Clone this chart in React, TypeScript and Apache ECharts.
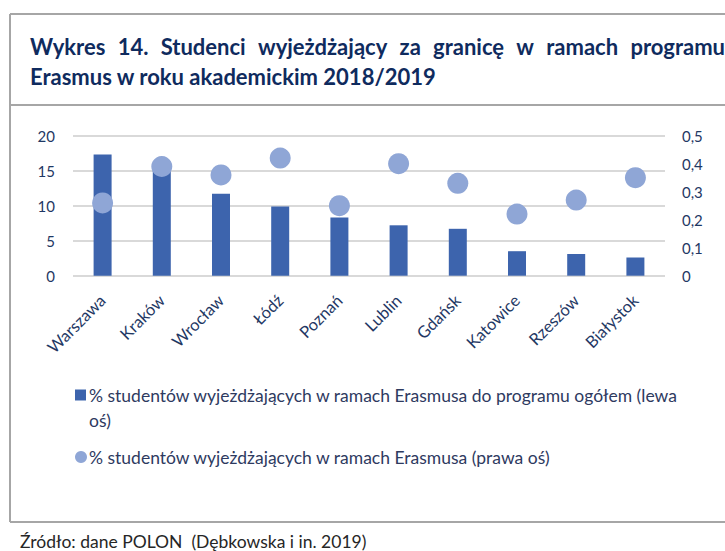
import React, { useEffect, useRef } from "react";
import * as echarts from "echarts";

const categories = ["Warszawa", "Kraków", "Wrocław", "Łódź", "Poznań", "Lublin", "Gdańsk", "Katowice", "Rzeszów", "Białystok"];
const shareOfProgramme = [17.3, 15.5, 11.7, 9.9, 8.3, 7.2, 6.7, 3.5, 3.1, 2.6];
const shareOfStudents = [0.26, 0.39, 0.36, 0.42, 0.25, 0.4, 0.33, 0.22, 0.27, 0.35];
const leftAxisTicks = [0, 5, 10, 15, 20];
const rightAxisTicks = [0, 0.1, 0.2, 0.3, 0.4, 0.5];

const barName = "% studentów wyjeżdżających w ramach Erasmusa do programu ogółem (lewa oś)";
const dotName = "% studentów wyjeżdżających w ramach Erasmusa (prawa oś)";
const titleLine1 = "Wykres 14. Studenci wyjeżdżający za granicę w ramach programu";
const titleLine2 = "Erasmus w roku akademickim 2018/2019";
const sourceText = "Źródło: dane POLON  (Dębkowska i in. 2019)";

const FONT = "Lato, 'Open Sans', sans-serif";
const NAVY = "#1F3864";
const TITLE = "#0F2B5E";
const BAR = "#3D64AD";
const DOT = "#8FA6D6";
const FRAME = "#A6A6A6";
const TITLE_SIZE = 22;

function justifiedWords(text: string, left: number, right: number, font: string) {
  const words = text.split(" ");
  const ctx = document.createElement("canvas").getContext("2d");
  let widths = words.map((w) => w.length * 10);
  if (ctx) {
    ctx.font = font;
    widths = words.map((w) => ctx.measureText(w).width);
  }
  const total = widths.reduce((a, b) => a + b, 0);
  const gap = (right - left - total) / (words.length - 1);
  const out: { text: string; x: number }[] = [];
  let x = left;
  words.forEach((w, i) => {
    out.push({ text: w, x });
    x += widths[i] + gap;
  });
  return out;
}

export default function App() {
  const ref = useRef<HTMLDivElement>(null);
  useEffect(() => {
    if (!ref.current) return;
    const chart = echarts.init(ref.current, null, { renderer: "svg" });
    const titleFont = { fontFamily: FONT, fontWeight: "bold" as const, fontSize: TITLE_SIZE, fill: TITLE };
    const line1 = justifiedWords(titleLine1, 30, 725, `bold ${TITLE_SIZE}px Lato`);
    const graphic: any[] = [
      { type: "line", shape: { x1: 10, y1: 14, x2: 725, y2: 14 }, style: { stroke: FRAME, lineWidth: 2 } },
      { type: "line", shape: { x1: 10, y1: 14, x2: 10, y2: 522 }, style: { stroke: FRAME, lineWidth: 2 } },
      { type: "line", shape: { x1: 10, y1: 105, x2: 725, y2: 105 }, style: { stroke: FRAME, lineWidth: 2 } },
      { type: "line", shape: { x1: 10, y1: 522, x2: 725, y2: 522 }, style: { stroke: FRAME, lineWidth: 2 } },
      ...line1.map((w) => ({
        type: "text",
        x: w.x,
        y: 46,
        style: { text: w.text, ...titleFont, verticalAlign: "middle" },
      })),
      {
        type: "text",
        x: 30,
        y: 76,
        style: { text: titleLine2, ...titleFont, verticalAlign: "middle" },
      },
      {
        type: "text",
        x: 89,
        y: 420,
        style: { text: "oś)", fontFamily: FONT, fontSize: 17.5, fill: "#2E3A5F", verticalAlign: "middle" },
      },
      {
        type: "text",
        x: 20,
        y: 541,
        style: { text: sourceText, fontFamily: FONT, fontSize: 17.5, fill: "#262626", verticalAlign: "middle" },
      },
    ];
    const legendText = { fontFamily: FONT, fontSize: 17.5, color: "#2E3A5F" };
    chart.setOption({
      animation: false,
      backgroundColor: "#fff",
      grid: { left: 73, right: 60, top: 135.7, bottom: 275.3, containLabel: false },
      legend: [
        {
          data: [{ name: barName, icon: "rect" }],
          left: 75,
          top: 386,
          itemWidth: 11,
          itemHeight: 11,
          padding: 0,
          selectedMode: false,
          formatter: () => "% studentów wyjeżdżających w ramach Erasmusa do programu ogółem (lewa",
          textStyle: { ...legendText, padding: [0, 0, 0, -2] },
        },
        {
          data: [{ name: dotName, icon: "circle" }],
          left: 75,
          top: 448,
          itemWidth: 12,
          itemHeight: 12,
          padding: 0,
          selectedMode: false,
          textStyle: { ...legendText, padding: [0, 0, 0, -3] },
        },
      ],
      xAxis: {
        type: "category",
        data: categories,
        axisLine: { show: false },
        axisTick: { show: false },
        axisLabel: {
          rotate: 45,
          interval: 0,
          margin: 22,
          verticalAlign: "middle",
          fontFamily: FONT,
          fontSize: 16.5,
          color: NAVY,
        },
      },
      yAxis: [
        {
          type: "value",
          min: leftAxisTicks[0],
          max: leftAxisTicks[leftAxisTicks.length - 1],
          interval: leftAxisTicks[1] - leftAxisTicks[0],
          axisLine: { show: false },
          axisTick: { show: false },
          axisLabel: { margin: 18, fontFamily: FONT, fontSize: 15, color: NAVY },
          splitLine: { lineStyle: { color: "#D9D9D9", width: 2 } },
        },
        {
          type: "value",
          min: rightAxisTicks[0],
          max: rightAxisTicks[rightAxisTicks.length - 1],
          interval: 0.1,
          axisLine: { show: false },
          axisTick: { show: false },
          axisLabel: {
            margin: 17,
            fontFamily: FONT,
            fontSize: 15,
            color: NAVY,
            formatter: (v: number) => (Math.round(v * 10) / 10).toString().replace(".", ","),
          },
          splitLine: { show: false },
        },
      ],
      series: [
        {
          name: barName,
          type: "bar",
          data: shareOfProgramme,
          yAxisIndex: 0,
          barWidth: 18,
          itemStyle: { color: BAR },
        },
        {
          name: dotName,
          type: "scatter",
          data: shareOfStudents,
          yAxisIndex: 1,
          symbolSize: 21,
          itemStyle: { color: DOT, opacity: 1 },
        },
      ],
      graphic,
    });
    return () => chart.dispose();
  }, []);
  return <div ref={ref} style={{ position: "absolute", left: 0, top: 0, width: 725, height: 551 }} />;
}
